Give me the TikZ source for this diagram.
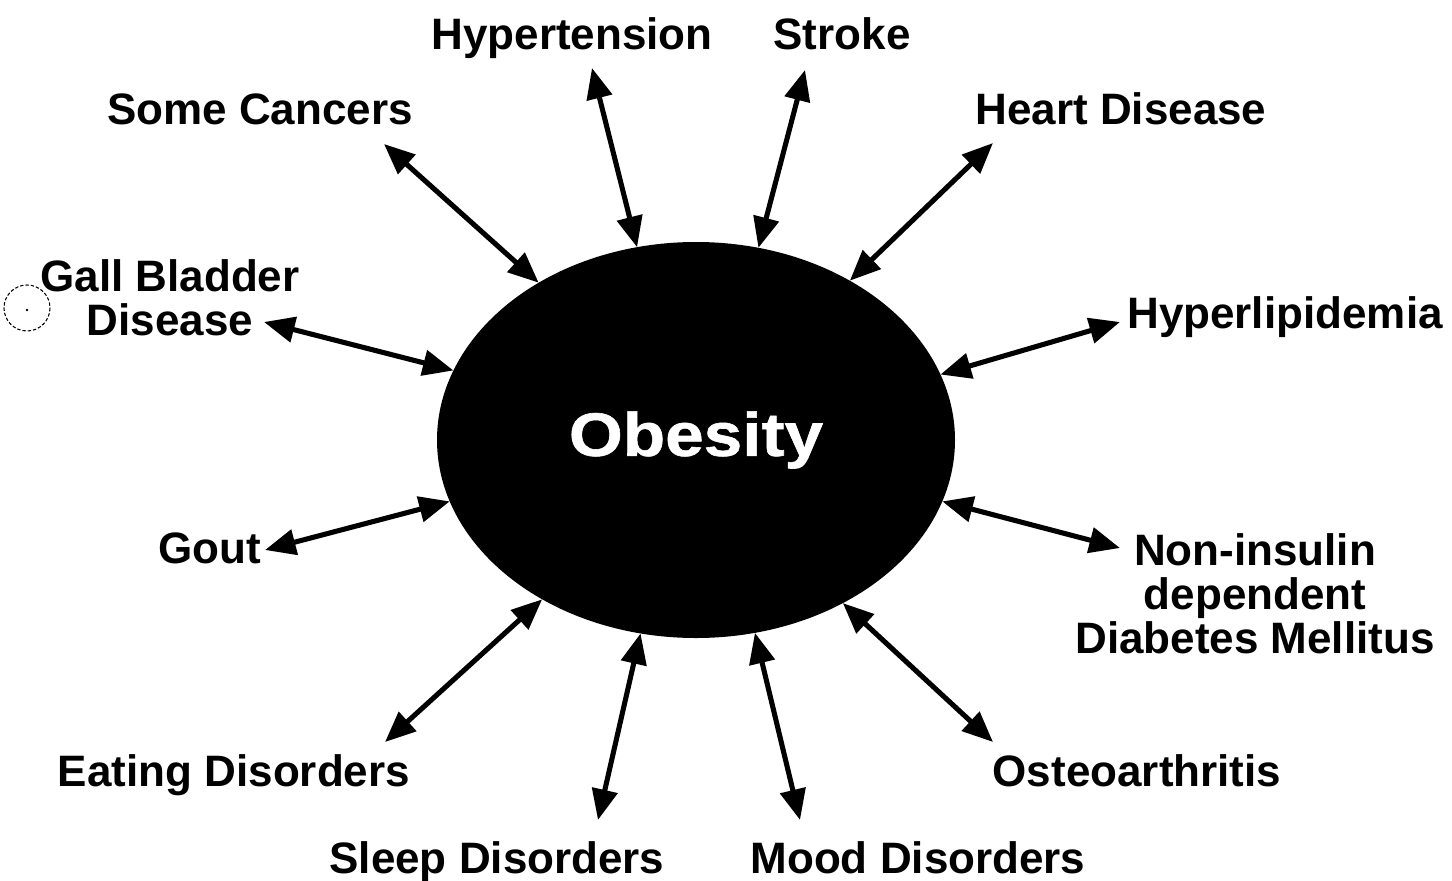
\documentclass[tikz,border=0pt]{standalone}
\usepackage{fontspec}
\setmainfont{Liberation Sans}
\newfontfamily\obesityfont{Liberation Sans Bold}[FakeStretch=1.13,FakeBold=1]
\usetikzlibrary{arrows.meta,shapes.geometric}

\tikzset{every picture/.style={line width=0.75pt}}
\tikzset{
  illness/.style={font=\fontsize{33}{33}\selectfont\bfseries, inner sep=0pt, align=center, anchor=base},
  twoway/.style={line width=3.8pt, {Triangle[length=23pt,width=19pt]}-{Triangle[length=23pt,width=19pt]}}
}

\begin{document}
\begin{tikzpicture}[x=0.75pt,y=0.75pt,yscale=-1,xscale=1]
\useasboundingbox (0,0) rectangle (1452,881);

%Shape: Ellipse [id:dp4471208613390521] 
\node [ellipse, fill=black, inner sep=0pt, outer sep=0pt, minimum width=388.5pt, minimum height=297pt,
  text=white, font=\fontsize{46}{46}\obesityfont] (obesity) at (696,440) {Obesity};

% Text Node
\node [illness] (hypertension) at (572,50) {Hypertension};
% Text Node
\node [illness] (stroke) at (842,50) {Stroke};
% Text Node
\node [illness] (cancers) at (260,124) {Some Cancers};
% Text Node
\node [illness] (heart) at (1121,124) {Heart Disease};
% Text Node
\node [illness] (gall) at (170,335) {Gall Bladder\\Disease};
% Text Node
\node [illness] (lipid) at (1285,328) {Hyperlipidemia};
% Text Node
\node [illness] (gout) at (210,563) {Gout};
% Text Node
\node [illness] (niddm) at (1255,653) {Non-insulin\\dependent\\Diabetes Mellitus};
% Text Node
\node [illness] (eating) at (234,786) {Eating Disorders};
% Text Node
\node [illness] (osteo) at (1137,786) {Osteoarthritis};
% Text Node
\node [illness] (sleep) at (497,873) {Sleep Disorders};
% Text Node
\node [illness] (mood) at (918,873) {Mood Disorders};

%Shape: Circle [id:dp0936152708231464] 
\draw [line width=0.8pt, dash pattern=on 2.5pt off 1.5pt] (27,308) circle (23);
\fill (27,310) circle (1.3);

% outer ends of the arrows
\coordinate (cancers-end) at (384,144);
\coordinate (hypertension-end) at (592,68);
\coordinate (stroke-end) at (805,70);
\coordinate (heart-end) at (993,143);
\coordinate (gall-end) at (264,322);
\coordinate (lipid-end) at (1120,322);
\coordinate (gout-end) at (265,550);
\coordinate (niddm-end) at (1120,548);
\coordinate (eating-end) at (385,742);
\coordinate (osteo-end) at (993,742);
\coordinate (sleep-end) at (598,820);
\coordinate (mood-end) at (800,820);

%Straight Lines [id:da5520814309281377] 
\draw [twoway] (cancers-end) -- (obesity.135.3);
\draw [twoway] (hypertension-end) -- (obesity.107);
\draw [twoway] (stroke-end) -- (obesity.72.6);
\draw [twoway] (heart-end) -- (obesity.46.8);
\draw [twoway] (gall-end) -- (obesity.164.6);
\draw [twoway] (lipid-end) -- (obesity.15.7);
\draw [twoway] (gout-end) -- (obesity.194.2);
\draw [twoway] (niddm-end) -- (obesity.-14.6);
\draw [twoway] (eating-end) -- (obesity.226);
\draw [twoway] (osteo-end) -- (obesity.-48.2);
\draw [twoway] (sleep-end) -- (obesity.254.4);
\draw [twoway] (mood-end) -- (obesity.-73);

\end{tikzpicture}
\end{document}
